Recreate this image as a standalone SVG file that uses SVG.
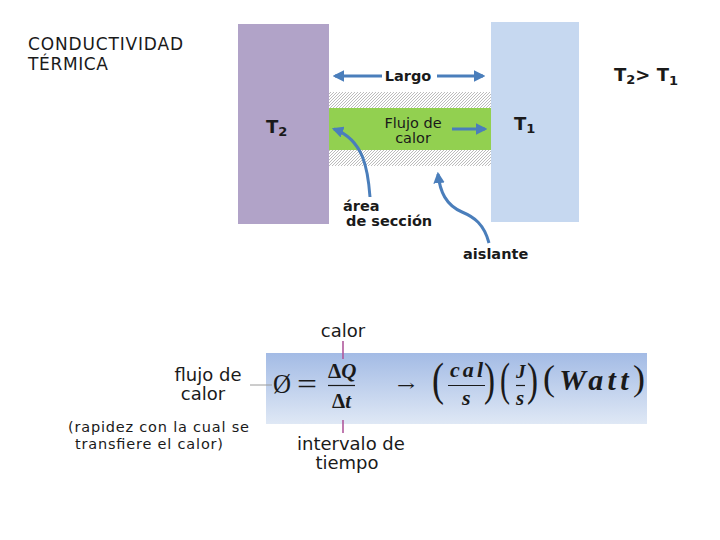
<svg xmlns="http://www.w3.org/2000/svg" width="720" height="540" viewBox="0 0 720 540">
<style>
.lbl{font-family:"DejaVu Sans","Verdana",sans-serif;fill:#1a1a1a}
.b{font-weight:bold}
.m{font-family:"Liberation Serif","Times New Roman",serif;fill:#1a1a1a}
.bi{font-weight:bold;font-style:italic}
.par{font-family:"Liberation Serif","Times New Roman",serif;fill:#1a1a1a;font-size:46px}
.conn{fill:none;stroke:#4A7EBB;stroke-width:3}
.tick{stroke:#B0589C;stroke-width:1.6}
</style>
<defs>
<marker id="ah" viewBox="0 0 10 10" refX="8" refY="5" markerWidth="3.8" markerHeight="3.8" orient="auto" markerUnits="strokeWidth">
<path d="M0,0 L10,5 L0,10 z" fill="#4A7EBB"/>
</marker>
<pattern id="hatch" width="3" height="3" patternUnits="userSpaceOnUse">
<rect width="3" height="3" fill="#ffffff"/>
<path d="M0,3 L3,0" stroke="#8e8e8e" stroke-width="0.6"/>
</pattern>
<linearGradient id="fg" x1="0" y1="0" x2="0" y2="1">
<stop offset="0" stop-color="#A3BBE5"/>
<stop offset="1" stop-color="#DFE8F5"/>
</linearGradient>
</defs>
<rect width="720" height="540" fill="#ffffff"/>

<g id="title">
<text class="lbl" x="28" y="50" font-size="17" textLength="155">CONDUCTIVIDAD</text>
<text class="lbl" x="28" y="70" font-size="17" textLength="80">TÉRMICA</text>
</g>

<g id="hot-body">
<rect x="238" y="24" width="91" height="200" fill="#B1A3C8"/>
<text class="lbl b" x="266" y="133" font-size="18">T<tspan font-size="13" dy="3">2</tspan></text>
</g>

<g id="cold-body">
<rect x="491" y="22" width="88" height="200" fill="#C6D8F0"/>
<text class="lbl b" x="514" y="130" font-size="18">T<tspan font-size="13" dy="3">1</tspan></text>
</g>

<g id="conductor">
<rect x="329" y="92" width="162" height="16" fill="url(#hatch)"/>
<rect x="329" y="150" width="162" height="16" fill="url(#hatch)"/>
<rect x="329" y="108" width="162" height="42" fill="#92D050"/>
<text class="lbl" x="413" y="128" font-size="14.5" text-anchor="middle" fill="#333">Flujo de</text>
<text class="lbl" x="413" y="143" font-size="14.5" text-anchor="middle" fill="#333">calor</text>
</g>

<g id="largo-label">
<text class="lbl b" x="408" y="81" font-size="14.5" text-anchor="middle">Largo</text>
</g>

<g id="inequality">
<text class="lbl b" x="614" y="81" font-size="18">T<tspan font-size="13" dy="3">2</tspan><tspan dy="-3">&gt; T</tspan><tspan font-size="13" dy="4">1</tspan></text>
</g>

<g id="area-label">
<text class="lbl b" x="343" y="211" font-size="14.5">área</text>
<text class="lbl b" x="346" y="226" font-size="14.5">de sección</text>
</g>

<g id="aislante-label">
<text class="lbl b" x="463" y="259" font-size="14.5">aislante</text>
</g>

<g id="connectors">
<line class="conn" x1="382" y1="76" x2="335" y2="76" marker-end="url(#ah)"/>
<line class="conn" x1="437" y1="76" x2="483" y2="76" marker-end="url(#ah)"/>
<line class="conn" x1="452" y1="129" x2="485" y2="129" marker-end="url(#ah)"/>
<path class="conn" d="M370,197 C368,170 364,140 334,129" marker-end="url(#ah)"/>
<path class="conn" d="M489,243 C484,224 474,217 462,212 C446,205 440,192 438,174" marker-end="url(#ah)"/>
</g>

<g id="formula">
<rect x="266" y="353" width="381" height="71" fill="url(#fg)"/>
<text class="m" x="273" y="393" font-size="27" textLength="18" lengthAdjust="spacingAndGlyphs">Ø</text>
<text class="m" x="297" y="394" font-size="30" textLength="20" lengthAdjust="spacingAndGlyphs">=</text>
<text class="m" x="328" y="378" font-size="21"><tspan font-weight="bold">Δ</tspan><tspan class="bi">Q</tspan></text>
<line x1="328" y1="385.5" x2="355" y2="385.5" stroke="#1a1a1a" stroke-width="1.2"/>
<text class="m" x="332" y="408" font-size="21"><tspan font-weight="bold">Δ</tspan><tspan class="bi">t</tspan></text>
<text x="397" y="391" font-family="DejaVu Serif,serif" font-size="16" fill="#1a1a1a" textLength="18" lengthAdjust="spacingAndGlyphs">→</text>
<text class="par" x="432" y="395" textLength="12" lengthAdjust="spacingAndGlyphs">(</text>
<text class="m bi" x="450" y="377" font-size="22" textLength="33">cal</text>
<line x1="448" y1="385.5" x2="485" y2="385.5" stroke="#1a1a1a" stroke-width="1.2"/>
<text class="m bi" x="462" y="405" font-size="22">s</text>
<text class="par" x="484" y="395" textLength="11" lengthAdjust="spacingAndGlyphs">)</text>
<text class="par" x="500" y="395" textLength="10" lengthAdjust="spacingAndGlyphs">(</text>
<text class="m bi" x="516" y="378" font-size="19">J</text>
<line x1="516" y1="385.5" x2="525" y2="385.5" stroke="#1a1a1a" stroke-width="1.2"/>
<text class="m bi" x="516" y="405" font-size="21">s</text>
<text class="par" x="527" y="395" textLength="11" lengthAdjust="spacingAndGlyphs">)</text>
<text class="m" x="543" y="390" font-size="30" font-weight="bold" textLength="102"><tspan font-size="36" font-weight="normal">(</tspan><tspan font-style="italic">Watt</tspan><tspan font-size="36" font-weight="normal">)</tspan></text>
</g>

<g id="ticks">
<line class="tick" x1="343" y1="341" x2="343" y2="359"/>
<line class="tick" x1="343" y1="420" x2="343" y2="433"/>
<line x1="250" y1="385" x2="272" y2="385" stroke="#9a9a9a" stroke-width="1"/>
</g>

<g id="formula-labels">
<text class="lbl" x="343" y="337" font-size="18" text-anchor="middle">calor</text>
<text class="lbl" x="208" y="381" font-size="18" text-anchor="middle">flujo de</text>
<text class="lbl" x="203" y="400" font-size="18" text-anchor="middle">calor</text>
<text class="lbl" x="68" y="432" font-size="14.5" textLength="181">(rapidez con la cual se</text>
<text class="lbl" x="75" y="449" font-size="14.5" textLength="148">transfiere el calor)</text>
<text class="lbl" x="297" y="450" font-size="18">intervalo de</text>
<text class="lbl" x="347" y="469" font-size="18" text-anchor="middle">tiempo</text>
</g>
</svg>
